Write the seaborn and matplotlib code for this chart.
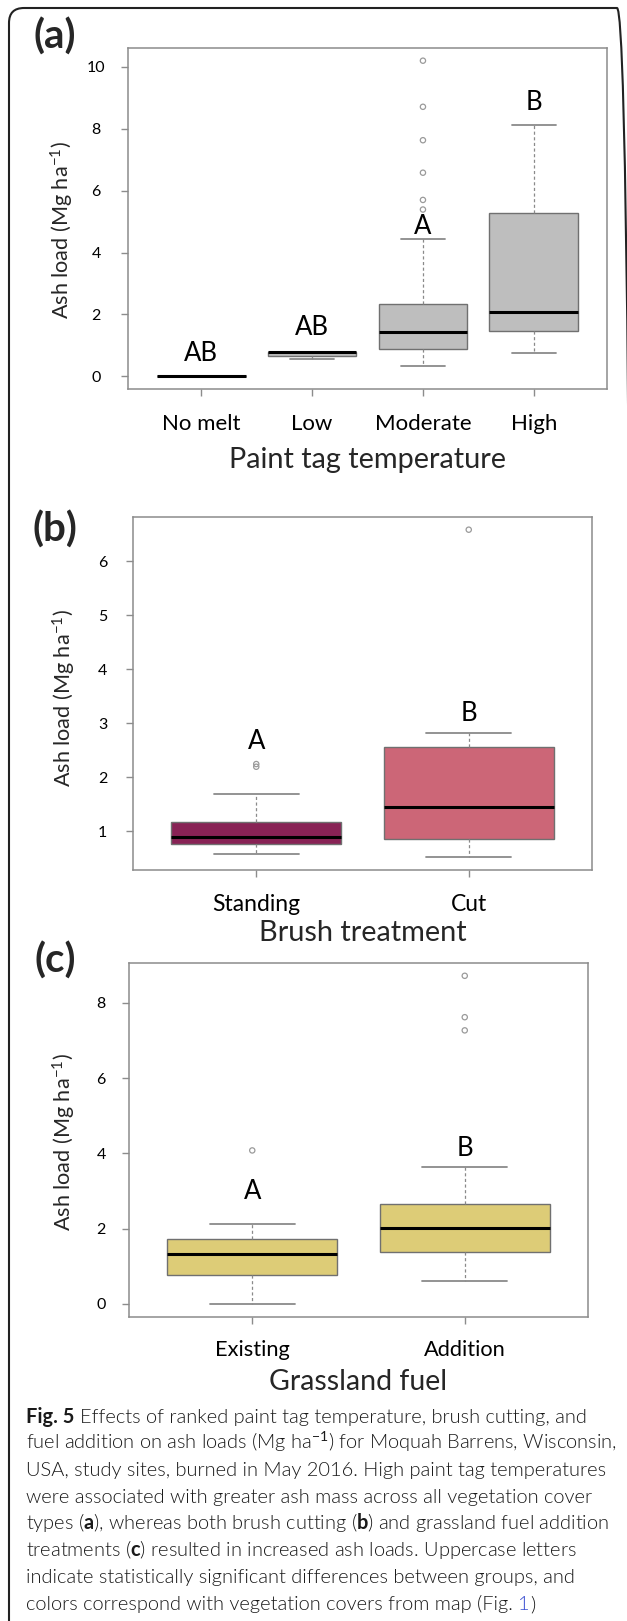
import numpy as np
import pandas as pd
import matplotlib
matplotlib.use("Agg")
import matplotlib.pyplot as plt
import matplotlib.transforms as mtransforms
from matplotlib.patches import FancyBboxPatch
import seaborn as sns

# ---------------- data ----------------
# (a) Paint tag temperature
temp_cats = ["No melt", "Low", "Moderate", "High"]
temp_lo = [0.00, 0.57, 0.32, 0.75]
temp_q1 = [0.00, 0.66, 0.88, 1.45]
temp_med = [0.00, 0.78, 1.43, 2.09]
temp_q3 = [0.00, 0.80, 2.34, 5.29]
temp_hi = [0.00, 0.80, 4.44, 8.12]
temp_out_cat = ["Moderate", "Moderate", "Moderate", "Moderate", "Moderate", "Moderate"]
temp_out_val = [5.39, 5.70, 6.58, 7.63, 8.71, 10.2]
temp_letters = ["AB", "AB", "A", "B"]
temp_letter_y = [0.73, 1.58, 4.85, 8.84]
temp_yticks = [0, 2, 4, 6, 8, 10]

# (b) Brush treatment
brush_cats = ["Standing", "Cut"]
brush_lo = [0.57, 0.51]
brush_q1 = [0.76, 0.86]
brush_med = [0.89, 1.44]
brush_q3 = [1.17, 2.56]
brush_hi = [1.69, 2.82]
brush_out_cat = ["Standing", "Standing", "Cut"]
brush_out_val = [2.19, 2.24, 6.58]
brush_letters = ["A", "B"]
brush_letter_y = [2.66, 3.17]
brush_yticks = [1, 2, 3, 4, 5, 6]

# (c) Grassland fuel
grass_cats = ["Existing", "Addition"]
grass_lo = [0.00, 0.62]
grass_q1 = [0.77, 1.37]
grass_med = [1.34, 2.02]
grass_q3 = [1.73, 2.65]
grass_hi = [2.13, 3.65]
grass_out_cat = ["Existing", "Addition", "Addition", "Addition"]
grass_out_val = [4.08, 7.27, 7.62, 8.72]
grass_letters = ["A", "B"]
grass_letter_y = [2.98, 4.12]
grass_yticks = [0, 2, 4, 6, 8]

temp_colors = ["#BEBEBE", "#BEBEBE", "#BEBEBE", "#BEBEBE"]
brush_colors = ["#882255", "#CC6677"]
grass_colors = ["#DDCC77", "#DDCC77"]

# ---------------- style ----------------
sns.set_theme(style="white")
plt.rcParams["font.family"] = ["Lato", "DejaVu Sans"]
plt.rcParams["mathtext.fontset"] = "custom"
plt.rcParams["mathtext.rm"] = "Lato"
plt.rcParams["mathtext.bf"] = "Lato:bold"
plt.rcParams["mathtext.it"] = "Lato:italic"

W, H = 627, 1621
fig = plt.figure(figsize=(W / 100, H / 100), dpi=100)
fig.patch.set_facecolor("white")
renderer = fig.canvas.get_renderer()

FRAME = "#8c8c8c"


def text_width(text, size, **kw):
    t = fig.text(0, 0, text, fontsize=size, **kw)
    w = t.get_window_extent(renderer).width
    t.remove()
    return w


def fit_size(text, target_px, base=12.0, **kw):
    return base * target_px / text_width(text, base, **kw)


def px_axes(left, right, top, bottom):
    return fig.add_axes([left / W, 1 - bottom / H, (right - left) / W, (bottom - top) / H])


YLAB = "Ash load (Mg ha$^{-1}$)"
ytick_fs = fit_size("10", 18.5)
ylab_fs = fit_size(YLAB, 178)
letter_fs = fit_size("AB", 34)


def draw_panel(ax, cats, lo, q1, med, q3, hi, out_c, out_v, colors, letters, letter_y,
               yticks, ylim, xlim, xlabel, xlabel_w, xt_ref, xt_w, ypad, xl_y, yl_x,
               yl_y, xt_pad):
    rows = []
    for c, a, b, m, d, e in zip(cats, lo, q1, med, q3, hi):
        for v in (a, b, m, d, e):
            rows.append((c, v))
    df = pd.DataFrame(rows, columns=["cat", "val"])
    sns.boxplot(data=df, x="cat", y="val", hue="cat", order=cats, hue_order=cats,
                palette=colors, legend=False, whis=(0, 100), width=0.8, saturation=1,
                showfliers=False, linecolor="#707070", linewidth=1.0,
                medianprops=dict(color="black", linewidth=2.2),
                whiskerprops=dict(color="#8a8a8a", linestyle=(0, (2.5, 2)), linewidth=0.9),
                capprops=dict(color="#8a8a8a", linewidth=1.3),
                boxprops=dict(edgecolor="#707070", linewidth=1.0),
                ax=ax)
    odf = pd.DataFrame({"cat": out_c, "val": out_v})
    sns.stripplot(data=odf, x="cat", y="val", order=cats, jitter=False, ax=ax,
                  color="#9a9a9a", size=3.8, linewidth=0.9, edgecolor="#9a9a9a",
                  facecolor="none", zorder=4)
    for coll in ax.collections:
        coll.set_facecolor("none")
    for i, (t, y) in enumerate(zip(letters, letter_y)):
        ax.text(i, y, t, ha="center", va="center", fontsize=letter_fs, color="black")
    ax.set_xlim(*xlim)
    ax.set_ylim(*ylim)
    ax.set_yticks(yticks)
    ax.set_yticklabels([str(v) for v in yticks])
    ax.set_xticks(range(len(cats)))
    ax.set_xticklabels(cats)
    for s in ax.spines.values():
        s.set_color(FRAME)
        s.set_linewidth(1.1)
        s.set_visible(True)
    ax.tick_params(axis="both", which="both", left=True, bottom=True, length=5,
                   width=1.0, color=FRAME, labelcolor="black")
    ax.tick_params(axis="y", labelsize=ytick_fs, pad=ypad)
    ax.tick_params(axis="x", labelsize=fit_size(xt_ref, xt_w), pad=xt_pad)
    for lbl in ax.get_yticklabels():
        lbl.set_ha("center")
    for lbl in ax.get_xticklabels():
        lbl.set_va("center")
    ax.set_ylabel(YLAB, fontsize=ylab_fs)
    ax.yaxis.set_label_coords(yl_x, yl_y)
    ax.yaxis.label.set_va("center")
    ax.set_xlabel(xlabel, fontsize=fit_size(xlabel, xlabel_w))
    ax.xaxis.set_label_coords(0.5, xl_y)
    ax.xaxis.label.set_va("center")
    ax.grid(False)


# panel (a)
ax_a = px_axes(128, 607, 48, 389)
draw_panel(ax_a, temp_cats, temp_lo, temp_q1, temp_med, temp_q3, temp_hi,
           temp_out_cat, temp_out_val, temp_colors, temp_letters, temp_letter_y,
           temp_yticks, (-0.41, 10.61), (-0.66, 3.66), "Paint tag temperature", 277,
           "Moderate", 96,
           ypad=18, xl_y=-(460 - 389) / 341, yl_x=(62 - 128) / 479,
           yl_y=0.5 - 12 / 341, xt_pad=20)

# panel (b)
ax_b = px_axes(133, 592, 517, 870)
draw_panel(ax_b, brush_cats, brush_lo, brush_q1, brush_med, brush_q3, brush_hi,
           brush_out_cat, brush_out_val, brush_colors, brush_letters, brush_letter_y,
           brush_yticks, (0.278, 6.815), (-0.58, 1.58), "Brush treatment", 207,
           "Standing", 87,
           ypad=17, xl_y=-(933 - 870) / 353, yl_x=(64 - 133) / 459,
           yl_y=0.5 - 5 / 353, xt_pad=20)

# panel (c)
ax_c = px_axes(129, 588, 963, 1317)
draw_panel(ax_c, grass_cats, grass_lo, grass_q1, grass_med, grass_q3, grass_hi,
           grass_out_cat, grass_out_val, grass_colors, grass_letters, grass_letter_y,
           grass_yticks, (-0.346, 9.06), (-0.58, 1.58), "Grassland fuel", 178,
           "Existing", 74,
           ypad=15, xl_y=-(1382 - 1317) / 354, yl_x=(64 - 129) / 459,
           yl_y=0.5 - 2 / 354, xt_pad=19)

# panel letters
panel_fs = fit_size("(a)", 42, fontweight="bold")
for lab, (cx, cy) in zip(["(a)", "(b)", "(c)"], [(55, 37), (55, 530), (55, 961)]):
    fig.text(cx / W, 1 - cy / H, lab, ha="center", va="center", fontsize=panel_fs,
             fontweight="bold")

# outer rounded frame
frame = FancyBboxPatch((9, -30), 623, H - 8 + 30, boxstyle="round,pad=0,rounding_size=15",
                       transform=mtransforms.IdentityTransform(), facecolor="none",
                       edgecolor="#222222", linewidth=1.5, zorder=0)
fig.add_artist(frame)

# ---------------- caption ----------------
cap_head = "Fig. 5"
cap_lines = [
    "Effects of ranked paint tag temperature, brush cutting, and",
    r"fuel addition on ash loads (Mg ha$^{-1}$) for Moquah Barrens, Wisconsin,",
    "USA, study sites, burned in May 2016. High paint tag temperatures",
    "were associated with greater ash mass across all vegetation cover",
    r"types ($\mathbf{a}$), whereas both brush cutting ($\mathbf{b}$) and grassland fuel addition",
    r"treatments ($\mathbf{c}$) resulted in increased ash loads. Uppercase letters",
    "indicate statistically significant differences between groups, and",
    "colors correspond with vegetation covers from map (Fig. 1)",
]
cap_right = [586, 614, 595, 579, 622, 587, 574, 535]
cap_centers = [1417, 1443, 1470, 1497, 1523, 1550, 1577, 1604]
CAP_X = 26
CAP_W = 300

# choose caption size so that the lines match the reference widths on average
# while no line runs past the right edge
base = 12.0
sp_base = text_width("a b", base, fontweight=CAP_W) - text_width("ab", base, fontweight=CAP_W)
head_base = text_width(cap_head, base, fontweight="bold")
ratios = []
limits = []
for i, (line, r) in enumerate(zip(cap_lines, cap_right)):
    w = text_width(line, base, fontweight=CAP_W)
    if i == 0:
        w += head_base + sp_base
    ratios.append((r - CAP_X) / w)
    limits.append((620 - CAP_X) / w)
cap_fs = base * min(float(np.median(ratios)), min(limits))
space_px = sp_base * cap_fs / base

CAP_KW = dict(fontsize=cap_fs, fontweight=CAP_W, color="#1a1a1a", va="baseline", ha="left")

# line 1 with bold head
y0 = 1 - (cap_centers[0] + 6) / H
th = fig.text(CAP_X / W, y0, cap_head, **{**CAP_KW, "fontweight": "bold"})
hx = th.get_window_extent(renderer).x1
fig.text((hx + space_px) / W, y0, cap_lines[0], **CAP_KW)

for line, cy in zip(cap_lines[1:7], cap_centers[1:7]):
    fig.text(CAP_X / W, 1 - (cy + 6) / H, line, **CAP_KW)

last_y = 1 - (cap_centers[7] + 6) / H
last_main = "colors correspond with vegetation covers from map (Fig."
fig.text(CAP_X / W, last_y, last_main, **CAP_KW)
tmp = fig.text(CAP_X / W, last_y, last_main + " 1", **CAP_KW)
bb = tmp.get_window_extent(renderer)
tmp.remove()
xe = bb.x1 / W
fig.text(xe, last_y, "1", **{**CAP_KW, "ha": "right", "color": "#3a4fd1"})
fig.text(xe, last_y, ")", **CAP_KW)

fig.savefig("out.png", dpi=100)
